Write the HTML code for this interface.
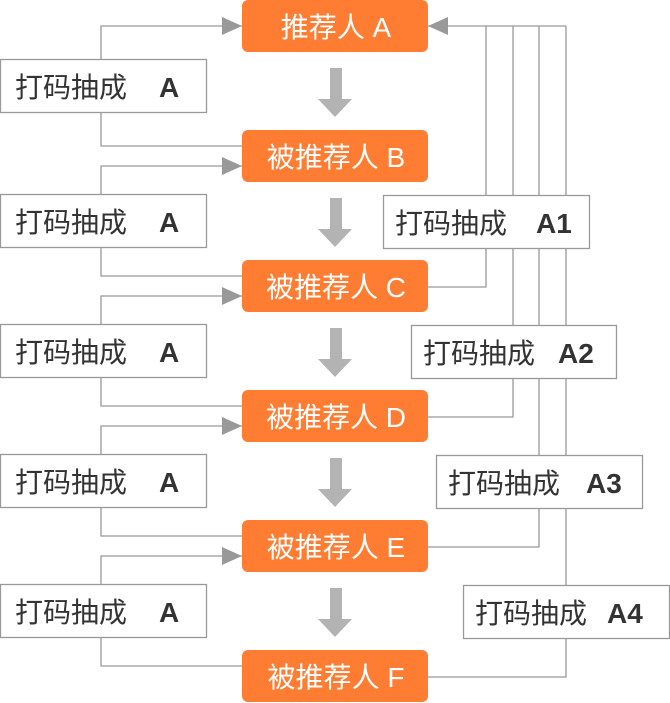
<!DOCTYPE html>
<html><head><meta charset="utf-8"><style>html,body{margin:0;padding:0;background:#fff}svg{display:block}</style></head>
<body>
<svg width="670" height="703" viewBox="0 0 670 703" xmlns="http://www.w3.org/2000/svg" font-family="'Liberation Sans','Noto Sans CJK SC',sans-serif">
<defs>
<marker id="ar" markerWidth="20" markerHeight="18" refX="20" refY="9" orient="auto" markerUnits="userSpaceOnUse"><path d="M0,0 L20,9 L0,18 Z" fill="#999"/></marker>
</defs>
<g stroke="#999" stroke-width="1.3" fill="none">
<polyline points="101,59 101,26 242,26" marker-end="url(#ar)"/>
<polyline points="101,112 101,146 242,146"/>
<polyline points="101,194 101,166 242,166" marker-end="url(#ar)"/>
<polyline points="101,247 101,276 242,276"/>
<polyline points="101,324 101,296 242,296" marker-end="url(#ar)"/>
<polyline points="101,377 101,406 242,406"/>
<polyline points="101,454 101,426 242,426" marker-end="url(#ar)"/>
<polyline points="101,507 101,536 242,536"/>
<polyline points="101,584 101,556 242,556" marker-end="url(#ar)"/>
<polyline points="101,637 101,666 242,666"/>
<polyline points="566,26 428,26" marker-end="url(#ar)"/>
<line x1="486" y1="26" x2="486" y2="195"/>
<line x1="513" y1="26" x2="513" y2="325"/>
<line x1="539" y1="26" x2="539" y2="455"/>
<line x1="566" y1="26" x2="566" y2="585"/>
<polyline points="486,248 486,287 428,287"/>
<polyline points="513,378 513,417 428,417"/>
<polyline points="539,508 539,547 428,547"/>
<polyline points="566,638 566,677 428,677"/>
</g>
<g fill="#b3b3b3">
<path d="M330,68 h12 v31 h10 l-17,18 l-17,-18 h12 z"/>
<path d="M330,198 h12 v31 h10 l-17,18 l-17,-18 h12 z"/>
<path d="M330,328 h12 v31 h10 l-17,18 l-17,-18 h12 z"/>
<path d="M330,458 h12 v31 h10 l-17,18 l-17,-18 h12 z"/>
<path d="M330,588 h12 v31 h10 l-17,18 l-17,-18 h12 z"/>
</g>
<g fill="#ff7d33">
<rect x="242" y="0" width="186" height="52" rx="6"/>
<rect x="242" y="130" width="186" height="52" rx="6"/>
<rect x="242" y="260" width="186" height="52" rx="6"/>
<rect x="242" y="390" width="186" height="52" rx="6"/>
<rect x="242" y="520" width="186" height="52" rx="6"/>
<rect x="242" y="650" width="186" height="52" rx="6"/>
</g>
<g fill="#fff" font-size="28" text-anchor="middle">
<text x="336" y="37">推荐人 A</text>
<text x="336" y="167">被推荐人 B</text>
<text x="336" y="297">被推荐人 C</text>
<text x="336" y="427">被推荐人 D</text>
<text x="336" y="557">被推荐人 E</text>
<text x="336" y="687">被推荐人 F</text>
</g>
<g fill="#fff" stroke="#999" stroke-width="1.3">
<rect x="0.5" y="59.5" width="206" height="53"/>
<rect x="0.5" y="194.5" width="206" height="53"/>
<rect x="0.5" y="324.5" width="206" height="53"/>
<rect x="0.5" y="454.5" width="206" height="53"/>
<rect x="0.5" y="584.5" width="206" height="53"/>
<rect x="383.5" y="195.5" width="206" height="53"/>
<rect x="411.5" y="325.5" width="205" height="53"/>
<rect x="436.5" y="455.5" width="206" height="53"/>
<rect x="463.5" y="585.5" width="206" height="53"/>
</g>
<g fill="#333" font-size="28">
<text x="15" y="97">打码抽成</text><text x="159" y="97" font-weight="bold">A</text>
<text x="15" y="232">打码抽成</text><text x="159" y="232" font-weight="bold">A</text>
<text x="15" y="362">打码抽成</text><text x="159" y="362" font-weight="bold">A</text>
<text x="15" y="492">打码抽成</text><text x="159" y="492" font-weight="bold">A</text>
<text x="15" y="622">打码抽成</text><text x="159" y="622" font-weight="bold">A</text>
<text x="395" y="233">打码抽成</text><text x="536" y="233" font-weight="bold">A1</text>
<text x="423" y="363">打码抽成</text><text x="558" y="363" font-weight="bold">A2</text>
<text x="448" y="493">打码抽成</text><text x="586" y="493" font-weight="bold">A3</text>
<text x="475" y="623">打码抽成</text><text x="607" y="623" font-weight="bold">A4</text>
</g>
</svg>
</body></html>
